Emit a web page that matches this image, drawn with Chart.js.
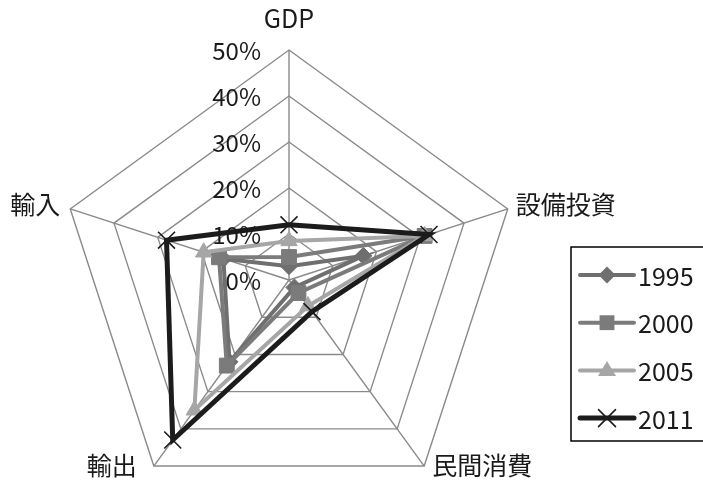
<!DOCTYPE html>
<html>
<head>
<meta charset="utf-8">
<script src="https://cdn.jsdelivr.net/npm/chart.js@4.4.1/dist/chart.umd.min.js"></script>
<style>
  html, body { margin: 0; padding: 0; background: #fff; overflow: hidden; }
  #wrap { width: 703px; height: 483px; position: relative; overflow: hidden; }
</style>
</head>
<body>
<div id="wrap"><canvas id="myChart" width="703" height="520"></canvas></div>
<script>
const categories = ["GDP", "設備投資", "民間消費", "輸出", "輸入"];
const years = ["1995", "2000", "2005", "2011"];
const values1995 = [0.03, 0.17, 0.02, 0.22, 0.15];
const values2000 = [0.05, 0.31, 0.035, 0.23, 0.16];
const values2005 = [0.085, 0.31, 0.07, 0.35, 0.195];
const values2011 = [0.12, 0.32, 0.085, 0.43, 0.28];
const tickValues = [0, 0.1, 0.2, 0.3, 0.4, 0.5];

const colors = ["#6f6f6f", "#7b7b7b", "#a6a6a6", "#1c1c1c"];
const markers = ["rectRot", "rect", "triangle", "crossRot"];
const markerSize = [8.5, 10.5, 9.5, 12];
const seriesValues = [values1995, values2000, values2005, values2011];

const FONT = "'Noto Sans CJK JP', 'Noto Sans', sans-serif";

// 軸ラベルの位置 (頂点からのずれ) と揃え
const labelOffsets = [[0, -32, "center"], [8, -4, "left"], [8, -1, "left"], [-17, -1, "right"], [-10, -4, "right"]];

// 目盛りラベル (軸の左側に右寄せ) と軸ラベル
const textPlugin = {
    id: "radarTexts",
    afterDatasetsDraw(chart) {
        const scale = chart.scales.r;
        const ctx = chart.ctx;
        ctx.save();
        ctx.fillStyle = "#1a1a1a";
        ctx.textBaseline = "middle";
        ctx.font = "24px " + FONT;
        ctx.textAlign = "right";
        tickValues.forEach(v => {
            const p = scale.getPointPositionForValue(0, v);
            ctx.fillText(Math.round(v * 100) + "%", p.x - 28, p.y + 1);
        });
        ctx.font = "25px " + FONT;
        categories.forEach((name, i) => {
            const p = scale.getPointPositionForValue(i, 0.5);
            const o = labelOffsets[i];
            ctx.textAlign = o[2];
            ctx.fillText(name, p.x + o[0], p.y + o[1]);
        });
        ctx.restore();
    }
};

// 凡例 (枠付き)
function drawMarker(ctx, style, x, y, r, color) {
    ctx.save();
    ctx.fillStyle = color;
    ctx.strokeStyle = color;
    ctx.beginPath();
    if (style === "rectRot") {
        ctx.moveTo(x, y - r); ctx.lineTo(x + r, y); ctx.lineTo(x, y + r); ctx.lineTo(x - r, y);
        ctx.closePath(); ctx.fill();
    } else if (style === "rect") {
        const s = r * Math.SQRT1_2;
        ctx.rect(x - s, y - s, 2 * s, 2 * s); ctx.fill();
    } else if (style === "triangle") {
        ctx.moveTo(x, y - r); ctx.lineTo(x + r * 0.95, y + r * 0.6); ctx.lineTo(x - r * 0.95, y + r * 0.6);
        ctx.closePath(); ctx.fill();
    } else {
        const d = r * Math.SQRT1_2;
        ctx.lineWidth = 1.6;
        ctx.moveTo(x - d, y - d); ctx.lineTo(x + d, y + d);
        ctx.moveTo(x + d, y - d); ctx.lineTo(x - d, y + d);
        ctx.stroke();
    }
    ctx.restore();
}

const legendPlugin = {
    id: "boxLegend",
    afterDraw(chart) {
        const ctx = chart.ctx;
        ctx.save();
        ctx.strokeStyle = "#000";
        ctx.lineWidth = 1.5;
        ctx.strokeRect(571, 247, 140, 194);
        years.forEach((year, i) => {
            const y = 275 + i * 47.7;
            ctx.strokeStyle = colors[i];
            ctx.lineWidth = i === 3 ? 5 : 4;
            ctx.lineCap = "round";
            ctx.beginPath();
            ctx.moveTo(580, y);
            ctx.lineTo(634, y);
            ctx.stroke();
            drawMarker(ctx, markers[i], 607, y, markerSize[i], colors[i]);
            ctx.fillStyle = "#1a1a1a";
            ctx.font = "25px " + FONT;
            ctx.textAlign = "left";
            ctx.textBaseline = "middle";
            ctx.fillText(year, 638, y + 1);
        });
        ctx.restore();
    }
};

const datasets = years.map((year, i) => ({
    label: year,
    data: seriesValues[i],
    borderColor: colors[i],
    backgroundColor: colors[i],
    pointBackgroundColor: colors[i],
    pointBorderColor: colors[i],
    borderWidth: i === 3 ? 5 : 4,
    pointStyle: markers[i],
    pointRadius: markerSize[i],
    pointBorderWidth: i === 3 ? 1.6 : 1,
    fill: false,
    tension: 0,
    order: 3 - i
}));

new Chart(document.getElementById("myChart").getContext("2d"), {
    type: "radar",
    data: { labels: categories, datasets: datasets },
    options: {
        responsive: false,
        animation: false,
        layout: { padding: { top: 50, left: 59, right: 184, bottom: 10 } },
        plugins: { legend: { display: false }, tooltip: { enabled: false } },
        scales: {
            r: {
                min: 0,
                max: 0.5,
                ticks: { stepSize: 0.1, display: false },
                grid: { color: "#8a8a8a", lineWidth: 1.4 },
                angleLines: { color: "#8a8a8a", lineWidth: 1.4 },
                pointLabels: { display: false }
            }
        }
    },
    plugins: [textPlugin, legendPlugin]
});
</script>
</body>
</html>
